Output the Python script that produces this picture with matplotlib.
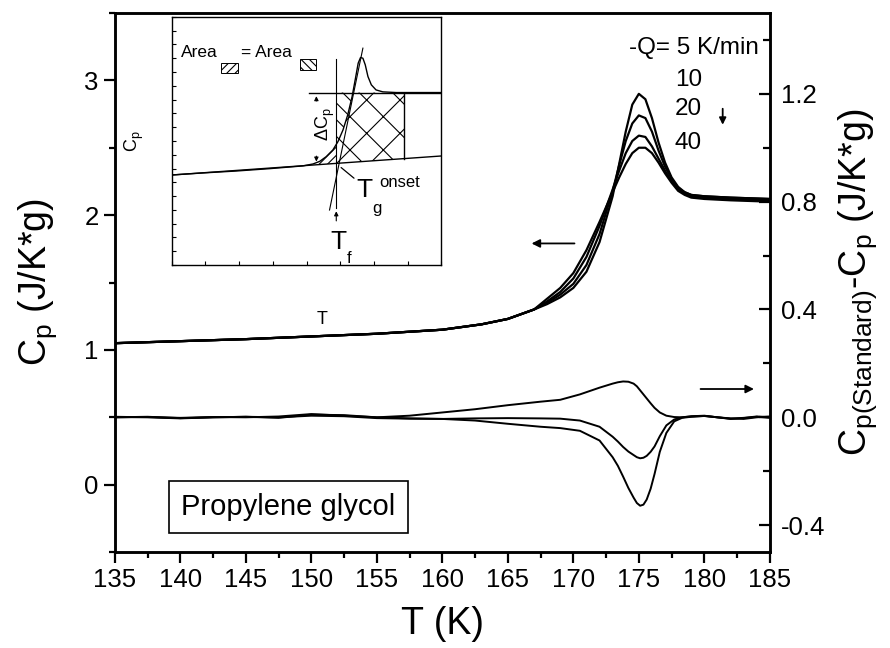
import numpy as np
import matplotlib
matplotlib.use('Agg')
import matplotlib.pyplot as plt
from matplotlib.ticker import MultipleLocator
from matplotlib.patches import Polygon, Rectangle

plt.rcParams['font.family'] = ['Liberation Sans', 'DejaVu Sans']
plt.rcParams['mathtext.fontset'] = 'custom'
plt.rcParams['mathtext.rm'] = 'Liberation Sans'
plt.rcParams['mathtext.default'] = 'regular'
plt.rcParams['hatch.linewidth'] = 0.8

# Cp curves (left axis), four cooling rates
T_cp = [135, 140, 145, 150, 155, 160, 163, 165, 167, 168, 169, 170, 171, 172, 173, 173.5,
        174, 174.5, 175, 175.5, 176, 176.5, 177, 177.5, 178, 178.5, 179, 180, 182, 185]
cp_head = [1.05, 1.065, 1.08, 1.10, 1.12, 1.15, 1.19, 1.23, 1.30]
cp_5 = cp_head + [1.34, 1.39, 1.46, 1.58, 1.80, 2.14, 2.38, 2.62, 2.82, 2.90, 2.86, 2.72,
                  2.54, 2.39, 2.28, 2.21, 2.17, 2.15, 2.14, 2.13, 2.12]
cp_10 = cp_head + [1.35, 1.41, 1.49, 1.63, 1.86, 2.18, 2.37, 2.55, 2.68, 2.74, 2.72, 2.62,
                   2.48, 2.36, 2.27, 2.20, 2.17, 2.15, 2.14, 2.13, 2.12]
cp_20 = cp_head + [1.36, 1.43, 1.53, 1.69, 1.92, 2.19, 2.33, 2.46, 2.55, 2.59, 2.58, 2.51,
                   2.42, 2.33, 2.25, 2.19, 2.16, 2.14, 2.13, 2.12, 2.11]
cp_40 = cp_head + [1.38, 1.46, 1.57, 1.74, 1.95, 2.17, 2.28, 2.38, 2.46, 2.50, 2.50, 2.46,
                   2.39, 2.31, 2.24, 2.18, 2.15, 2.13, 2.12, 2.11, 2.10]

# difference curves (right axis)
T_diff = [135, 137.5, 140, 142.5, 145, 147.5, 150, 152.5, 155, 157.5, 160, 162.5, 165, 167.5,
          169, 170.5, 172, 173, 173.4, 173.8, 174.2, 174.6, 174.85, 175.1, 175.35, 175.6,
          175.9, 176.2, 176.6, 177.1, 177.7, 178.3, 179, 180, 181, 182, 183, 184, 185]
diff_a = [0.002, 0.0, -0.004, 0.0, 0.002, -0.002, 0.01, 0.008, 0.0, 0.006, 0.018, 0.03, 0.045,
          0.058, 0.065, 0.085, 0.11, 0.125, 0.13, 0.133, 0.132, 0.125, 0.115, 0.10, 0.085,
          0.07, 0.052, 0.035, 0.018, 0.006, 0.001, 0.0, 0.003, 0.005, 0.0, -0.005, -0.002,
          0.003, 0.0]
diff_b = [0.0, 0.002, -0.003, 0.0, 0.002, 0.0, 0.006, 0.004, -0.003, -0.005, -0.006, -0.004,
          -0.003, -0.004, -0.005, -0.012, -0.035, -0.072, -0.09, -0.11, -0.127, -0.14, -0.148,
          -0.152, -0.15, -0.143, -0.128, -0.108, -0.07, -0.03, -0.008, 0.0, 0.004, 0.006, 0.0,
          -0.006, -0.003, 0.002, -0.002]
diff_c = [0.0, 0.001, -0.002, 0.001, 0.0, 0.003, 0.012, 0.006, 0.0, -0.004, -0.006, -0.012,
          -0.024, -0.035, -0.04, -0.05, -0.086, -0.148, -0.18, -0.22, -0.262, -0.298, -0.318,
          -0.328, -0.324, -0.305, -0.265, -0.21, -0.128, -0.058, -0.015, -0.002, 0.002, 0.005,
          0.0, -0.004, -0.006, 0.0, 0.003]

rate_labels = ['10', '20', '40']

# schematic in the inset (arbitrary units)
sk_x = [0, 0.93, 1.92, 2.90, 3.89, 4.19, 4.39, 4.58, 4.78, 4.93, 5.08, 5.22, 5.35, 5.45, 5.53,
        5.60, 5.67, 5.74, 5.82, 5.92, 6.06, 6.26, 6.66, 8.0]
sk_y = [6.53, 6.68, 6.82, 6.99, 7.19, 7.33, 7.52, 7.86, 8.35, 8.95, 9.80, 10.89, 12.22, 13.55,
        14.64, 15.05, 15.0, 14.52, 13.67, 13.07, 12.70, 12.56, 12.51, 12.51]
glass_x, glass_y = [0, 8.0], [6.53, 7.91]
liquid_x, liquid_y = [4.07, 8.0], [12.51, 12.51]
tangent_x, tangent_y = [4.68, 5.67], [3.99, 15.73]
tf_x, tf_y = [4.88, 4.88], [4.11, 14.93]
hatch_right = 6.90


def glass(x):
    return glass_y[0] + (glass_y[1] - glass_y[0]) * x / glass_x[1]


fig = plt.figure(figsize=(8.9, 6.48), dpi=100)
ax = fig.add_axes([0.129, 0.148, 0.736, 0.832])
ax2 = ax.twinx()

for c in [cp_5, cp_10, cp_20, cp_40]:
    ax.plot(T_cp, c, color='black', lw=1.6)
for d in [diff_a, diff_b, diff_c]:
    ax2.plot(T_diff, d, color='black', lw=1.4)

ax.set_xlim(135, 185)
ax.set_ylim(-0.5, 3.5)
ax2.set_ylim(-0.5, 1.5)
ax.xaxis.set_major_locator(MultipleLocator(5))
ax.xaxis.set_minor_locator(MultipleLocator(2.5))
ax.yaxis.set_major_locator(MultipleLocator(1))
ax.yaxis.set_minor_locator(MultipleLocator(0.5))
ax2.yaxis.set_major_locator(MultipleLocator(0.4))
ax2.yaxis.set_minor_locator(MultipleLocator(0.2))
ax2.set_yticks([-0.4, 0.0, 0.4, 0.8, 1.2])
ax2.set_yticklabels(['-0.4', '0.0', '0.4', '0.8', '1.2'])

for a in (ax, ax2):
    for s in a.spines.values():
        s.set_linewidth(1.8)
ax.tick_params(which='both', direction='out', width=1.6, labelsize=18.5, top=False)
ax.tick_params(which='major', length=8)
ax.tick_params(which='minor', length=4.5)
ax2.tick_params(which='both', direction='in', width=1.6, labelsize=18.5, pad=8)
ax2.tick_params(which='major', length=8)
ax2.tick_params(which='minor', length=5)

ax.set_xlabel('T (K)', fontsize=27, labelpad=10)
ax.set_ylabel('C$_p$ (J/K*g)', fontsize=27, labelpad=18)
ax2.set_ylabel('C$_{p(Standard)}$-C$_p$ (J/K*g)', fontsize=27, labelpad=8)

# arrows pointing to the axes
ax.annotate('', xy=(166.6, 1.79), xytext=(170.3, 1.79),
            arrowprops=dict(arrowstyle='-|>', color='black', lw=1.3, mutation_scale=12))
ax2.annotate('', xy=(184.0, 0.105), xytext=(179.5, 0.105),
             arrowprops=dict(arrowstyle='-|>', color='black', lw=1.3, mutation_scale=12))
ax.annotate('', xy=(181.4, 2.65), xytext=(181.4, 2.81),
            arrowprops=dict(arrowstyle='-|>', color='black', lw=1.3, mutation_scale=10))

# rate labels
ax.text(0.983, 0.935, '-Q= 5 K/min', transform=ax.transAxes, fontsize=17.5, ha='right',
        va='center')
for i, lab in enumerate(rate_labels):
    ax.text(0.855, [0.876, 0.822, 0.759][i], lab, transform=ax.transAxes, fontsize=17.5,
            ha='left', va='center')

ax.text(0.265, 0.084, 'Propylene glycol', transform=ax.transAxes, fontsize=21,
        ha='center', va='center',
        bbox=dict(boxstyle='square,pad=0.42', fc='white', ec='black', lw=1.2))

# inset schematic
ins = fig.add_axes([0.193, 0.591, 0.303, 0.383])
ins.set_xlim(0, 8)
ins.set_ylim(0, 18)
ins.xaxis.set_major_locator(MultipleLocator(1))
ins.yaxis.set_major_locator(MultipleLocator(1))
ins.tick_params(which='both', direction='in', length=3, width=0.8,
                labelbottom=False, labelleft=False)
for s in ins.spines.values():
    s.set_linewidth(1.0)

sk_x_arr, sk_y_arr = np.array(sk_x), np.array(sk_y)
x_tf = tf_x[0]
y_tf_curve = np.interp(x_tf, sk_x_arr, sk_y_arr)
x_top = np.interp(liquid_y[0], sk_y_arr[:15], sk_x_arr[:15])
mask = (sk_x_arr > x_tf) & (sk_x_arr < x_top)
cx, cy = sk_x_arr[mask], sk_y_arr[mask]

# single hatch left of the curve
poly_a = [(x_tf, y_tf_curve), (x_tf, liquid_y[0]), (x_top, liquid_y[0])] + \
         list(zip(cx[::-1], cy[::-1]))
ins.add_patch(Polygon(poly_a, closed=True, fill=False, hatch='\\\\', lw=0, ec='black'))
# cross hatch right of the curve
poly_b = [(x_tf, glass(x_tf)), (hatch_right, glass(hatch_right)),
          (hatch_right, liquid_y[0]), (x_top, liquid_y[0])] + \
         list(zip(cx[::-1], cy[::-1])) + [(x_tf, y_tf_curve)]
ins.add_patch(Polygon(poly_b, closed=True, fill=False, hatch='x', lw=0, ec='black'))
ins.plot([hatch_right, hatch_right], [glass(hatch_right), liquid_y[0]], color='black', lw=1.0)
# small hatch left of Tf
mask_c = (sk_x_arr > 4.2) & (sk_x_arr < x_tf)
poly_c = [(4.2, glass(4.2))] + list(zip(sk_x_arr[mask_c], sk_y_arr[mask_c])) + \
         [(x_tf, y_tf_curve), (x_tf, glass(x_tf))]
ins.add_patch(Polygon(poly_c, closed=True, fill=False, hatch='////', lw=0, ec='black'))

ins.plot(sk_x, sk_y, color='black', lw=1.0)
ins.plot(glass_x, glass_y, color='black', lw=1.0)
ins.plot(liquid_x, liquid_y, color='black', lw=1.0)
ins.plot(tangent_x, tangent_y, color='black', lw=0.8)
ins.plot(tf_x, tf_y, color='black', lw=0.8)

# delta Cp marks
ins.annotate('', xy=(4.29, 12.45), xytext=(4.29, 11.7),
             arrowprops=dict(arrowstyle='-|>', color='black', lw=0.8, mutation_scale=6))
ins.annotate('', xy=(4.29, 7.3), xytext=(4.29, 8.1),
             arrowprops=dict(arrowstyle='-|>', color='black', lw=0.8, mutation_scale=6))
ins.text(4.55, 10.2, r'$\Delta$C$_p$', fontsize=13, rotation=90, ha='center', va='center')

# Tg onset
ins.annotate('', xy=(4.96, 7.2), xytext=(5.47, 6.17),
             arrowprops=dict(arrowstyle='-', color='black', lw=0.9))
ins.text(5.72, 5.44, 'T', fontsize=19, ha='center', va='center')
ins.text(6.08, 4.11, 'g', fontsize=12, ha='center', va='center')
ins.text(6.76, 6.0, 'onset', fontsize=12, ha='center', va='center')

# Tf
ins.annotate('', xy=(4.88, 4.1), xytext=(4.88, 3.0),
             arrowprops=dict(arrowstyle='-|>', color='black', lw=0.8, mutation_scale=6))
ins.text(4.93, 1.69, 'T', fontsize=19, ha='center', va='center')
ins.text(5.27, 0.48, 'f', fontsize=12, ha='center', va='center')

# Area = Area legend
ins.text(0.26, 15.45, 'Area', fontsize=12.5, ha='left', va='center')
ins.add_patch(Rectangle((1.47, 13.96), 0.5, 0.7, fill=False, hatch='////', lw=0.7, ec='black'))
ins.text(2.05, 15.45, '= Area', fontsize=12.5, ha='left', va='center')
ins.add_patch(Rectangle((3.79, 14.15), 0.5, 0.78, fill=False, hatch='\\\\\\\\', lw=0.7, ec='black'))

ins.text(-0.14, 0.50, 'C$_p$', transform=ins.transAxes, fontsize=13, rotation=90,
         ha='center', va='center')
ins.text(0.556, -0.22, 'T', transform=ins.transAxes, fontsize=13, ha='center', va='center')

fig.savefig('out.png', dpi=100)
